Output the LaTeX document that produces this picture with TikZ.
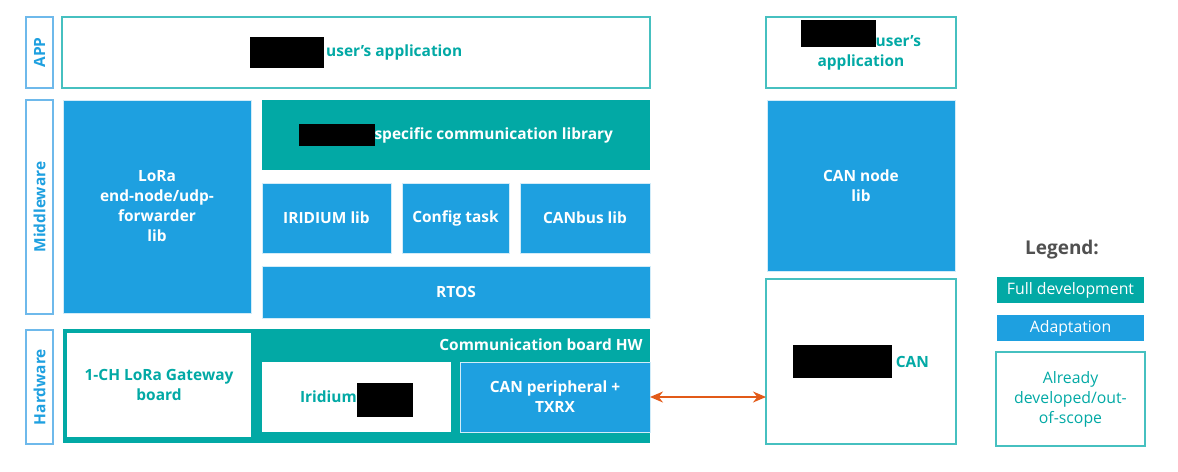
\documentclass[tikz,border=0pt]{standalone}
\usepackage{fontspec}
\setmainfont{Open Sans}
\usepackage{tikz}
\usetikzlibrary{arrows.meta}
\definecolor{fullteal}{RGB}{2,169,165}
\definecolor{adaptblue}{RGB}{30,160,224}
\definecolor{scopeteal}{RGB}{70,192,192}
\definecolor{layerblue}{RGB}{110,185,235}
\definecolor{legendgrey}{RGB}{80,80,80}
\definecolor{linkorange}{RGB}{226,90,24}
\newcommand{\boxfont}{\fontsize{8.8}{11.4}\selectfont\bfseries}
\newcommand{\redact}[3]{{\color{black}\smash{\rule[#1]{#2}{#3}}}}
\tikzset{
  sz/.style 2 args={minimum width=#1*0.02cm,minimum height=#2*0.02cm},
  layerbox/.style={draw=layerblue,fill=white,line width=0.8pt,inner sep=0pt,outer sep=0pt,rotate=90,font=\boxfont\color{adaptblue}},
  fullbox/.style={fill=fullteal,inner sep=0pt,outer sep=0pt,align=center,font=\boxfont\color{white}},
  adaptbox/.style={fill=adaptblue,draw=white!80!adaptblue,line width=0.5pt,inner sep=0pt,outer sep=0pt,align=center,font=\boxfont\color{white}},
  scopebox/.style={draw=scopeteal,fill=white,line width=0.8pt,inner sep=0pt,outer sep=0pt,align=center,font=\boxfont\color{fullteal}},
  legendbox/.style={inner sep=0pt,outer sep=0pt,align=center,font=\fontsize{9}{11.4}\selectfont},
  link/.style={{Stealth[length=2.6mm,width=2.2mm]}-{Stealth[length=2.6mm,width=2.2mm]},line width=0.8pt,draw=linkorange},
}

\begin{document}
\begin{tikzpicture}[x=0.02cm,y=-0.02cm]
  \useasboundingbox (0,0) rectangle (1178,471);
  % layer labels
  \node[layerbox,sz={71}{27}]  (applbl) at (39.5,52.5) {APP};
  \node[layerbox,sz={214}{27}] (midlbl) at (39.5,207)  {Middleware};
  \node[layerbox,sz={114}{27}] (hwlbl)  at (39.5,387)  {Hardware};
  % application layer
  \node[scopebox,sz={588}{71}] (app) at (356,52.5)
    {\redact{-6.8pt}{42pt}{18pt}\,user's application};
  % middleware layer
  \node[adaptbox,sz={188}{213}] (lora) at (157,206.5) {LoRa\\end-node/udp-\\forwarder\\lib};
  \node[fullbox,sz={388}{70}] (speclib) at (456,135)
    {\redact{-4pt}{43pt}{12.5pt}specific communication library};
  \node[adaptbox,sz={129}{70}] (iridlib) at (326.5,218) {IRIDIUM lib};
  \node[adaptbox,sz={107}{70}] (cfgtask) at (455.5,218) {Config task};
  \node[adaptbox,sz={130}{70}] (canlib)  at (585,218)   {CANbus lib};
  \node[adaptbox,sz={388}{52}] (rtos)    at (456,292)   {RTOS};
  % hardware layer
  \node[fullbox,sz={587}{114}] (commhw) at (356.5,386) {};
  \node[font=\boxfont\color{white},anchor=east,inner sep=0pt] (commlbl) at (643,345) {Communication board HW};
  \node[scopebox,draw=none,sz={184}{104}] (gwboard) at (159,385) {1-CH LoRa Gateway\\board};
  \node[scopebox,draw=none,sz={189}{70}] (iridhw) at (356.5,397)
    {Iridium\redact{-8pt}{32pt}{19.3pt}};
  \node[adaptbox,sz={190}{70}] (canper) at (555,397) {CAN peripheral +\\TXRX};
  % CAN node side
  \node[scopebox,sz={190}{71}] (rapp) at (861,52.5)
    {\redact{-0.5pt}{42.5pt}{15.3pt}user's\\application};
  \node[adaptbox,sz={188}{171}] (cannode) at (861,185.5) {CAN node\\lib};
  \node[scopebox,sz={190}{165}] (canbox) at (861,361.5)
    {\redact{-6.2pt}{56pt}{18.7pt}\;CAN};
  \draw[link] (canper.east) -- (canper.east -| canbox.west);
  % legend
  \node[font=\fontsize{10.8}{12}\selectfont\bfseries\color{legendgrey}] (legtitle) at (1062,250) {Legend:};
  \node[legendbox,fill=fullteal,text=white,sz={147}{26}] (legfull) at (1070.5,290) {Full development};
  \node[legendbox,fill=adaptblue,text=white,sz={147}{26}] (legadapt) at (1070.5,328) {Adaptation};
  \node[legendbox,draw=scopeteal,line width=0.8pt,text=fullteal,sz={149}{94}] (legscope) at (1070.5,399)
    {Already\\developed/out-\\of-scope};
\end{tikzpicture}
\end{document}
